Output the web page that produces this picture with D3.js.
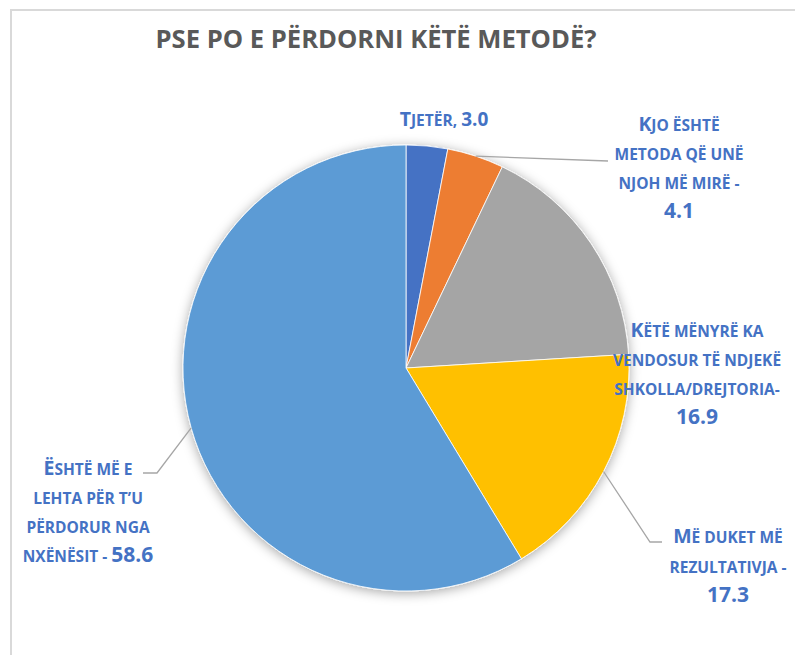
<!DOCTYPE html>
<html>
<head>
<meta charset="utf-8">
<script src="https://cdn.jsdelivr.net/npm/d3@7"></script>
<style>
  body { margin: 0; background: #fff; }
  text { font-family: "Open Sans", sans-serif; }
</style>
</head>
<body>
<div id="chart"></div>
<script>
// Data
var categories = ["Tjetër", "Kjo është metoda që unë njoh më mirë",
  "Këtë mënyrë ka vendosur të ndjekë shkolla/drejtoria",
  "Më duket më rezultativja", "Është më e lehta për t’u përdorur nga nxënësit"];
var values = [3.0, 4.1, 16.9, 17.3, 58.6];
var colors = ["#4472C4", "#ED7D31", "#A5A5A5", "#FFC000", "#5B9BD5"];
// label text, {v} is replaced by the value
var labelLines = [
  ["Tjetër, {v}"],
  ["Kjo është", "metoda që unë", "njoh më mirë -", "{v}"],
  ["Këtë mënyrë ka", "vendosur të ndjekë", "shkolla/drejtoria-", "{v}"],
  ["Më duket më", "rezultativja -", "{v}"],
  ["Është më e", "lehta për t’u", "përdorur nga", "nxënësit - {v}"]
];
var title = "PSE PO E PËRDORNI KËTË METODË?";

// Layout
var width = 795, height = 655;
var cx = 406, cy = 368, radius = 223;
var labelPos = [
  {x: 444, y: 126, dy: 29, num: 19},
  {x: 679, y: 131, dy: 29, num: 21},
  {x: 697, y: 337, dy: 29, num: 21},
  {x: 728, y: 543, dy: 29.5, num: 21},
  {x: 88, y: 475, dy: 29, num: 21}
];
// leader lines: extra points after the arc point (null = no leader)
var leaders = [null, [[608, 161]], null, [[650, 542], [662, 542]], [[157, 473], [143, 473]]];

var capSize = 19.5, smallSize = 15.5;
var fmt = d3.format(".1f");

var svg = d3.select("#chart").append("svg")
    .attr("width", width)
    .attr("height", height);

var defs = svg.append("defs");
var f = defs.append("filter").attr("id", "shadow")
    .attr("x", "-20%").attr("y", "-20%").attr("width", "140%").attr("height", "140%");
f.append("feDropShadow")
    .attr("dx", 0).attr("dy", 2)
    .attr("stdDeviation", 6)
    .attr("flood-color", "#000")
    .attr("flood-opacity", 0.35);

// chart area border
svg.append("rect")
    .attr("x", 11).attr("y", 10)
    .attr("width", 1000).attr("height", 1000)
    .attr("fill", "none")
    .attr("stroke", "#D9D9D9")
    .attr("stroke-width", 2);

svg.append("text")
    .attr("x", 376)
    .attr("y", 48)
    .attr("text-anchor", "middle")
    .attr("font-size", 25.6)
    .attr("font-weight", "bold")
    .attr("fill", "#595959")
    .text(title);

var pie = d3.pie().sort(null).value(function(d) { return d; });
var arcs = pie(values);
var arc = d3.arc().innerRadius(0).outerRadius(radius);
var edge = d3.arc().innerRadius(radius).outerRadius(radius);

var g = svg.append("g").attr("transform", "translate(" + cx + "," + cy + ")");

g.append("g")
    .attr("filter", "url(#shadow)")
  .selectAll("path")
    .data(arcs)
  .enter().append("path")
    .attr("d", arc)
    .attr("fill", function(d, i) { return colors[i]; })
    .attr("stroke", "#fff")
    .attr("stroke-width", 0.8);

// leader lines
arcs.forEach(function(d, i) {
  if (!leaders[i]) return;
  var p = edge.centroid(d);
  var pts = [[p[0] + cx, p[1] + cy]].concat(leaders[i]);
  svg.append("path")
      .attr("d", d3.line()(pts))
      .attr("fill", "none")
      .attr("stroke", "#A6A6A6")
      .attr("stroke-width", 1.3);
});

// split a string into small-caps runs: [text, size]
function smallCapsRuns(s) {
  var runs = [];
  for (var k = 0; k < s.length; k++) {
    var ch = s[k], size;
    if (ch !== ch.toLowerCase()) size = capSize;
    else size = smallSize;
    var last = runs[runs.length - 1];
    if (last && last[1] === size) last[0] += ch.toUpperCase();
    else runs.push([ch.toUpperCase(), size]);
  }
  return runs;
}

// labels
labelLines.forEach(function(lines, i) {
  var pos = labelPos[i];
  lines.forEach(function(s, j) {
    var t = svg.append("text")
        .attr("class", "label")
        .attr("x", pos.x)
        .attr("y", pos.y + j * pos.dy)
        .attr("text-anchor", "middle")
        .attr("font-weight", "bold")
        .attr("fill", "#4472C4");
    var parts = s.split("{v}");
    parts.forEach(function(part, k) {
      smallCapsRuns(part).forEach(function(r) {
        t.append("tspan").attr("font-size", r[1]).text(r[0]);
      });
      if (k < parts.length - 1) {
        t.append("tspan").attr("font-size", pos.num).text(fmt(values[i]));
      }
    });
  });
});
</script>
</body>
</html>
